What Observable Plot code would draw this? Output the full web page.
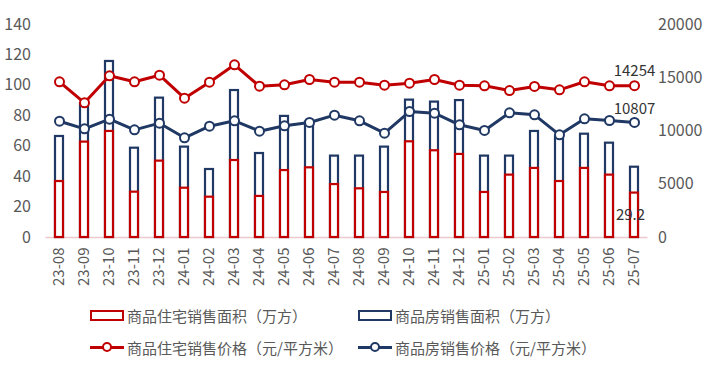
<!DOCTYPE html>
<html>
<head>
<meta charset="utf-8">
<script src="https://cdn.jsdelivr.net/npm/d3@7"></script>
<script src="https://cdn.jsdelivr.net/npm/@observablehq/plot@0.6"></script>
<style>
  body { margin: 0; background: #fff; font-family: "Noto Sans CJK SC", sans-serif; }
  #wrap { position: relative; width: 714px; height: 371px; }
  .lg { position: absolute; display: flex; align-items: center; font-size: 15px; color: #595959; white-space: nowrap; line-height: 1; }
  .sw-rect { width: 30px; height: 7px; border: 2.5px solid; background: #fff; margin-right: 3px; }
  .sw-line { position: relative; width: 34px; height: 12px; margin-right: 3px; }
  .sw-line .ln { position: absolute; left: 0; right: 0; top: 4.5px; height: 3px; }
  .sw-line .dt { position: absolute; left: 12px; top: 1px; width: 6px; height: 6px; border: 2px solid; border-radius: 50%; background: #fff; }
</style>
</head>
<body>
<div id="wrap"></div>
<script>
const months = ["23-08","23-09","23-10","23-11","23-12","24-01","24-02","24-03","24-04","24-05","24-06","24-07","24-08","24-09","24-10","24-11","24-12","25-01","25-02","25-03","25-04","25-05","25-06","25-07"];
// 商品房销售面积（万方）
const commercialArea = [66.4, 88, 115.7, 58.7, 91.6, 59.4, 44.7, 96.6, 55.2, 79.6, 75.8, 53.5, 53.5, 59.4, 90.3, 89, 90, 53.5, 53.5, 69.7, 66, 67.9, 62, 46.2];
// 商品住宅销售面积（万方）
const residentialArea = [36.8, 62.7, 69.7, 29.8, 50.2, 32.4, 26.5, 50.6, 27, 44, 45.8, 34.8, 32, 29.6, 62.9, 57, 54.6, 29.6, 41, 45.4, 36.8, 45.4, 41, 29.2];
// 商品住宅销售价格（元/平方米）
const residentialPrice = [14620, 12650, 15180, 14620, 15240, 13080, 14580, 16215, 14210, 14335, 14835, 14580, 14580, 14300, 14490, 14835, 14300, 14240, 13800, 14180, 13865, 14620, 14240, 14254];
// 商品房销售价格（元/平方米）
const commercialPrice = [10920, 10200, 11110, 10110, 10735, 9360, 10450, 10955, 9985, 10485, 10800, 11485, 10955, 9795, 11830, 11675, 10580, 10050, 11705, 11520, 9640, 11145, 10985, 10807];
const leftTicks = [0, 20, 40, 60, 80, 100, 120, 140];
const rightTicks = [0, 5000, 10000, 15000, 20000];

const RED = "#C00000", NAVY = "#203864";
const k = 140 / 20000; // right-axis units -> left-axis units

const data = months.map((m, i) => ({
  month: m,
  ca: commercialArea[i],
  ra: residentialArea[i],
  rp: residentialPrice[i] * k,
  cp: commercialPrice[i] * k,
  rpRaw: residentialPrice[i],
  cpRaw: commercialPrice[i]
}));
const last = [data[data.length - 1]];

const chart = Plot.plot({
  width: 714,
  height: 300,
  marginLeft: 45.5,
  marginRight: 66.5,
  marginTop: 24,
  marginBottom: 63,
  style: { fontFamily: "'Noto Sans CJK SC', sans-serif", fontSize: "15px", color: "#595959", background: "transparent" },
  x: { domain: months, paddingInner: 0.7, paddingOuter: 0.35, label: null },
  y: { domain: [0, 140], label: null },
  marks: [
    Plot.ruleY([0], { stroke: "#ecc9cc", strokeWidth: 1.5 }),
    Plot.barY(data, { x: "month", y: "ca", fill: "white", stroke: NAVY, strokeWidth: 2.2 }),
    Plot.barY(data, { x: "month", y: "ra", fill: "white", stroke: RED, strokeWidth: 2.2 }),
    Plot.line(data, { x: "month", y: "rp", stroke: RED, strokeWidth: 3 }),
    Plot.dot(data, { x: "month", y: "rp", r: 4.5, fill: "white", stroke: RED, strokeWidth: 2 }),
    Plot.line(data, { x: "month", y: "cp", stroke: NAVY, strokeWidth: 3 }),
    Plot.dot(data, { x: "month", y: "cp", r: 4.5, fill: "white", stroke: NAVY, strokeWidth: 2 }),
    Plot.text(last, { x: "month", y: "rp", text: d => String(d.rpRaw), dy: -15, fill: "#333", fontSize: 15 }),
    Plot.text(last, { x: "month", y: "cp", text: d => String(d.cpRaw), dy: -13, fill: "#333", fontSize: 15 }),
    Plot.text(last, { x: "month", y: "ra", text: d => String(d.ra), dy: 22, dx: -4, fill: "#333", fontSize: 15 }),
    Plot.axisY({ anchor: "left", ticks: leftTicks, tickSize: 0, tickPadding: 15, fontSize: 16, label: null }),
    Plot.axisY({ anchor: "right", ticks: rightTicks.map(v => v * k), tickFormat: v => String(Math.round(v / k)), tickSize: 0, tickPadding: 10, fontSize: 16, label: null }),
    Plot.axisX({ tickRotate: -90, tickSize: 0, tickPadding: 10, fontSize: 15, label: null })
  ]
});
const wrap = document.getElementById("wrap");
wrap.appendChild(chart);

const legendItems = [
  { label: "商品住宅销售面积（万方）", color: RED, type: "rect", x: 90, y: 315 },
  { label: "商品房销售面积（万方）", color: NAVY, type: "rect", x: 358, y: 315 },
  { label: "商品住宅销售价格（元/平方米）", color: RED, type: "line", x: 90, y: 347 },
  { label: "商品房销售价格（元/平方米）", color: NAVY, type: "line", x: 358, y: 347 }
];
for (const it of legendItems) {
  const d = document.createElement("div");
  d.className = "lg";
  d.style.left = it.x + "px";
  d.style.top = (it.y - 9) + "px";
  d.style.height = "18px";
  let sw;
  if (it.type === "rect") {
    sw = document.createElement("div");
    sw.className = "sw-rect";
    sw.style.borderColor = it.color;
  } else {
    sw = document.createElement("div");
    sw.className = "sw-line";
    const ln = document.createElement("div"); ln.className = "ln"; ln.style.background = it.color;
    const dt = document.createElement("div"); dt.className = "dt"; dt.style.borderColor = it.color;
    sw.appendChild(ln); sw.appendChild(dt);
  }
  const t = document.createElement("span");
  t.textContent = it.label;
  d.appendChild(sw); d.appendChild(t);
  wrap.appendChild(d);
}
</script>
</body>
</html>
